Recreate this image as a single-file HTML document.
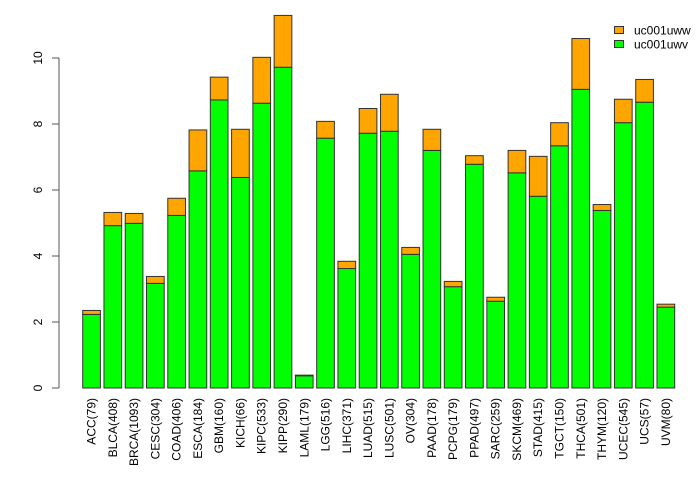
<!DOCTYPE html>
<html><head><meta charset="utf-8"><style>
html,body{margin:0;padding:0;background:#fff;}
svg{display:block;font-family:"Liberation Sans",sans-serif;}
</style></head><body>
<svg id="chart" width="700" height="480" xmlns="http://www.w3.org/2000/svg"></svg>
<script>
const categories=["ACC(79)","BLCA(408)","BRCA(1093)","CESC(304)","COAD(406)","ESCA(184)","GBM(160)","KICH(66)","KIPC(533)","KIPP(290)","LAML(179)","LGG(516)","LIHC(371)","LUAD(515)","LUSC(501)","OV(304)","PAAD(178)","PCPG(179)","PPAD(497)","SARC(259)","SKCM(469)","STAD(415)","TGCT(150)","THCA(501)","THYM(120)","UCEC(545)","UCS(57)","UVM(80)"];
const greenValues=[2.23,4.92,4.99,3.17,5.23,6.58,8.73,6.38,8.63,9.72,0.37,7.57,3.62,7.72,7.78,4.05,7.20,3.07,6.78,2.63,6.52,5.81,7.34,9.05,5.38,8.04,8.66,2.45];
const orangeValues=[0.12,0.40,0.30,0.21,0.52,1.24,0.69,1.46,1.39,1.57,0.02,0.51,0.22,0.75,1.12,0.21,0.64,0.16,0.26,0.12,0.68,1.21,0.70,1.54,0.18,0.71,0.69,0.09];
const yTicks=[0,2,4,6,8,10];
const seriesNames=["uc001uww","uc001uwv"];

const svg=document.getElementById('chart');
const NS='http://www.w3.org/2000/svg';
const y0=388, pxPerUnit=33;
const yScale=v=>y0-v*pxPerUnit;
const xLeft=i=>82.7+i*21.27;
const barW=17.7;
function mk(tag,attrs){const e=document.createElementNS(NS,tag);for(const k in attrs)e.setAttribute(k,attrs[k]);svg.appendChild(e);return e;}

// y axis
const ax=mk('line',{x1:59,x2:59,y1:yScale(0),y2:yScale(10),stroke:'#555','stroke-width':1});


yTicks.forEach(t=>{
  const tk=mk('line',{x1:52,x2:59,y1:yScale(t),y2:yScale(t),stroke:'#555','stroke-width':1});
  
  
  const tl=mk('text',{x:0,y:0,'font-size':12,'text-anchor':'middle',fill:'#000',transform:`translate(42,${yScale(t)}) rotate(-90)`});
  tl.textContent=t;
  
  
});

categories.forEach((c,i)=>{
  const x=xLeft(i);
  const g=greenValues[i], o=orangeValues[i];
  const gb=mk('rect',{x:x,y:yScale(g),width:barW,height:g*pxPerUnit,fill:'#00ff00',stroke:'#333','stroke-width':1});
  
  
  const ob=mk('rect',{x:x,y:yScale(g+o),width:barW,height:o*pxPerUnit,fill:'#ffa500',stroke:'#333','stroke-width':1});
  
  
  const lb=mk('text',{x:0,y:0,'font-size':12,'text-anchor':'end',fill:'#000',transform:`translate(${x+barW/2+4},398) rotate(-90)`});
  lb.textContent=c;
  
  
});

// legend
const colors=['#ffa500','#00ff00'];
seriesNames.forEach((n,i)=>{
  const r=mk('rect',{x:614.5,y:26.5+i*14,width:9,height:7,fill:colors[i],stroke:'#333','stroke-width':1});
  
  
  const t=mk('text',{x:634,y:34.5+i*14,'font-size':12,fill:'#000'});
  t.textContent=n;
  
  
});
</script>
</body></html>
